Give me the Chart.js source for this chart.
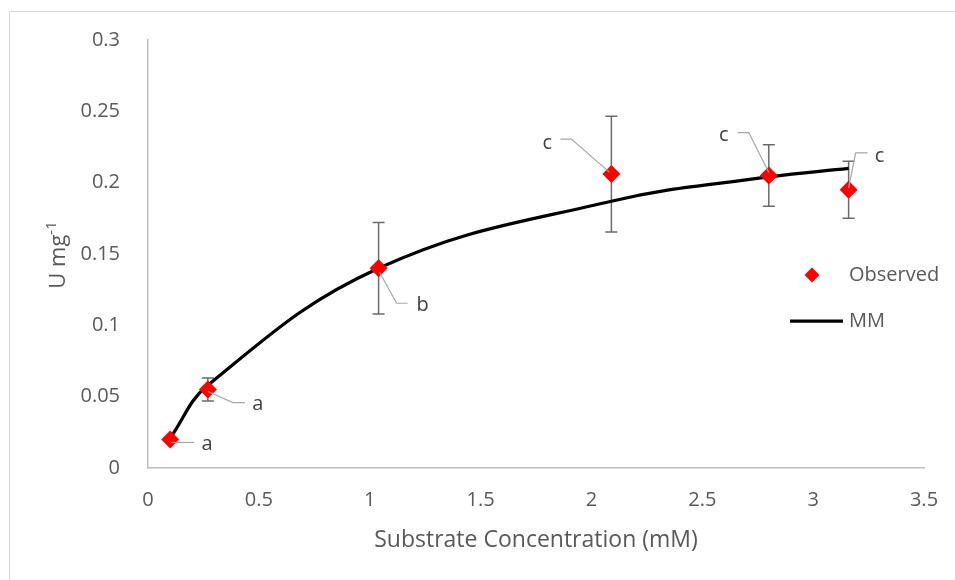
<!DOCTYPE html>
<html lang="en">
<head>
<meta charset="UTF-8">
<title>Substrate Concentration vs Activity</title>
<script src="https://cdn.jsdelivr.net/npm/chart.js"></script>
<style>
    html, body { margin: 0; padding: 0; background: #fff; }
    #wrap { width: 955px; height: 580px; }
</style>
</head>
<body>
<div id="wrap"><canvas id="mmChart" width="955" height="580"></canvas></div>
<script>
// substrate concentration (mM)
const conc = [0.1, 0.27, 1.04, 2.09, 2.8, 3.16];
// observed activity (U mg-1) with standard deviation
const observed = [0.020, 0.055, 0.140, 0.206, 0.205, 0.195];
const sd = [0, 0.008, 0.032, 0.0405, 0.0215, 0.020];
// Michaelis-Menten fit at the same concentrations
const mmFit = [0.021, 0.058, 0.140, 0.187, 0.204, 0.210];
// significance letters
const groups = ['a', 'a', 'b', 'c', 'c', 'c'];
const xTicks = [0, 0.5, 1, 1.5, 2, 2.5, 3, 3.5];
const yTicks = [0, 0.05, 0.1, 0.15, 0.2, 0.25, 0.3];

const FONT = "'Open Sans', sans-serif";
const TEXT = '#595959';

// leader line bends and letter position, in px from each marker
const letterOffsets = [
    { path: [[1, 3], [24, 3]], text: [37, 5] },
    { path: [[0, 2], [25, 13], [37, 13]], text: [50, 15] },
    { path: [[1, 4], [18, 35], [29, 35]], text: [44, 37] },
    { path: [[-2, -2], [-40, -35], [-51, -35]], text: [-64, -31] },
    { path: [[0, -3], [-20, -43], [-31, -43]], text: [-45, -40] },
    { path: [[0, -2], [7, -37], [19, -37]], text: [31, -34] }
];

const fmt = v => String(+Number(v).toFixed(2));

const framePlugin = {
    id: 'frame',
    beforeDraw(chart) {
        const ctx = chart.ctx;
        ctx.save();
        ctx.fillStyle = '#fff';
        ctx.fillRect(0, 0, chart.width, chart.height);
        ctx.strokeStyle = '#d9d9d9';
        ctx.lineWidth = 1;
        ctx.strokeRect(9.5, 11.5, chart.width + 20, chart.height + 20);
        ctx.restore();
    }
};

const errorBarPlugin = {
    id: 'errorBars',
    beforeDatasetsDraw(chart) {
        const ctx = chart.ctx;
        const xs = chart.scales.x, ys = chart.scales.y;
        ctx.save();
        ctx.strokeStyle = '#6b6b6b';
        ctx.lineWidth = 1.5;
        conc.forEach((c, i) => {
            if (!sd[i]) return;
            const x = xs.getPixelForValue(c);
            const y1 = ys.getPixelForValue(observed[i] + sd[i]);
            const y2 = ys.getPixelForValue(observed[i] - sd[i]);
            ctx.beginPath();
            ctx.moveTo(x, y1); ctx.lineTo(x, y2);
            ctx.moveTo(x - 6, y1); ctx.lineTo(x + 6, y1);
            ctx.moveTo(x - 6, y2); ctx.lineTo(x + 6, y2);
            ctx.stroke();
        });
        ctx.restore();
    }
};

const letterPlugin = {
    id: 'letters',
    afterDatasetsDraw(chart) {
        const ctx = chart.ctx;
        const xs = chart.scales.x, ys = chart.scales.y;
        ctx.save();
        ctx.font = '20px ' + FONT;
        ctx.textAlign = 'center';
        ctx.textBaseline = 'middle';
        groups.forEach((g, i) => {
            const x = xs.getPixelForValue(conc[i]);
            const y = ys.getPixelForValue(observed[i]);
            const o = letterOffsets[i];
            ctx.strokeStyle = '#a6a6a6';
            ctx.lineWidth = 1.2;
            ctx.beginPath();
            o.path.forEach(([dx, dy], k) => {
                if (k === 0) ctx.moveTo(x + dx, y + dy);
                else ctx.lineTo(x + dx, y + dy);
            });
            ctx.stroke();
            ctx.fillStyle = '#404040';
            ctx.fillText(g, x + o.text[0], y + o.text[1]);
        });
        ctx.restore();
    }
};

const sideLegendPlugin = {
    id: 'sideLegend',
    afterDraw(chart) {
        const ctx = chart.ctx;
        ctx.save();
        // Observed marker
        ctx.fillStyle = '#ff0000';
        ctx.beginPath();
        ctx.moveTo(812, 267.5); ctx.lineTo(819.5, 275);
        ctx.lineTo(812, 282.5); ctx.lineTo(804.5, 275);
        ctx.closePath();
        ctx.fill();
        // MM line
        ctx.strokeStyle = '#000';
        ctx.lineWidth = 3.25;
        ctx.beginPath();
        ctx.moveTo(790, 321); ctx.lineTo(843, 321);
        ctx.stroke();
        ctx.fillStyle = TEXT;
        ctx.font = '20px ' + FONT;
        ctx.textAlign = 'left';
        ctx.textBaseline = 'middle';
        ctx.fillText(chart.data.datasets[0].label, 849, 275);
        ctx.fillText(chart.data.datasets[1].label, 849, 321);
        ctx.restore();
    }
};

// y title with superscript, drawn rotated
const yTitlePlugin = {
    id: 'yTitle',
    afterDraw(chart) {
        const ctx = chart.ctx;
        ctx.save();
        ctx.fillStyle = TEXT;
        ctx.font = '22px ' + FONT;
        const main = 'U mg';
        const wMain = ctx.measureText(main).width;
        ctx.font = '15px ' + FONT;
        const wSup = ctx.measureText('-1').width;
        const total = wMain + wSup;
        ctx.translate(65, 255);
        ctx.rotate(-Math.PI / 2);
        ctx.textBaseline = 'alphabetic';
        ctx.textAlign = 'left';
        ctx.font = '22px ' + FONT;
        ctx.fillText(main, -total / 2, 0);
        ctx.font = '15px ' + FONT;
        ctx.fillText('-1', -total / 2 + wMain, -9);
        ctx.restore();
    }
};

new Chart(document.getElementById('mmChart'), {
    type: 'scatter',
    data: {
        datasets: [
            {
                label: 'Observed',
                data: conc.map((c, i) => ({ x: c, y: observed[i] })),
                pointStyle: 'rectRot',
                pointRadius: 9,
                pointBackgroundColor: '#ff0000',
                pointBorderColor: '#ff0000',
                pointBorderWidth: 0,
                showLine: false,
                order: 0
            },
            {
                label: 'MM',
                data: conc.map((c, i) => ({ x: c, y: mmFit[i] })),
                showLine: true,
                borderColor: '#000',
                borderWidth: 3.25,
                pointRadius: 0,
                tension: 0.4,
                order: 1
            }
        ]
    },
    options: {
        responsive: false,
        animation: false,
        devicePixelRatio: 1,
        layout: { padding: { left: 0, right: 31, top: 40, bottom: 0 } },
        plugins: {
            legend: { display: false },
            tooltip: { enabled: false }
        },
        scales: {
            x: {
                type: 'linear',
                min: 0, max: 3.5,
                afterBuildTicks: s => { s.ticks = xTicks.map(v => ({ value: v })); },
                afterFit: s => { s.height = 112; },
                grid: { display: false },
                border: { display: true, color: '#bfbfbf', width: 1.5 },
                ticks: { color: TEXT, font: { family: FONT, size: 20 }, padding: 12, callback: fmt },
                title: {
                    display: true,
                    text: 'Substrate Concentration (mM)',
                    color: TEXT,
                    font: { family: FONT, size: 23 },
                    padding: { top: 0, bottom: 26 }
                }
            },
            y: {
                type: 'linear',
                min: 0, max: 0.3,
                afterBuildTicks: s => { s.ticks = yTicks.map(v => ({ value: v })); },
                afterFit: s => { s.width = 148; },
                grid: { display: false },
                border: { display: true, color: '#bfbfbf', width: 1.5 },
                ticks: { color: TEXT, font: { family: FONT, size: 20 }, padding: 20, callback: fmt }
            }
        }
    },
    plugins: [framePlugin, errorBarPlugin, letterPlugin, sideLegendPlugin, yTitlePlugin]
});
</script>
</body>
</html>
